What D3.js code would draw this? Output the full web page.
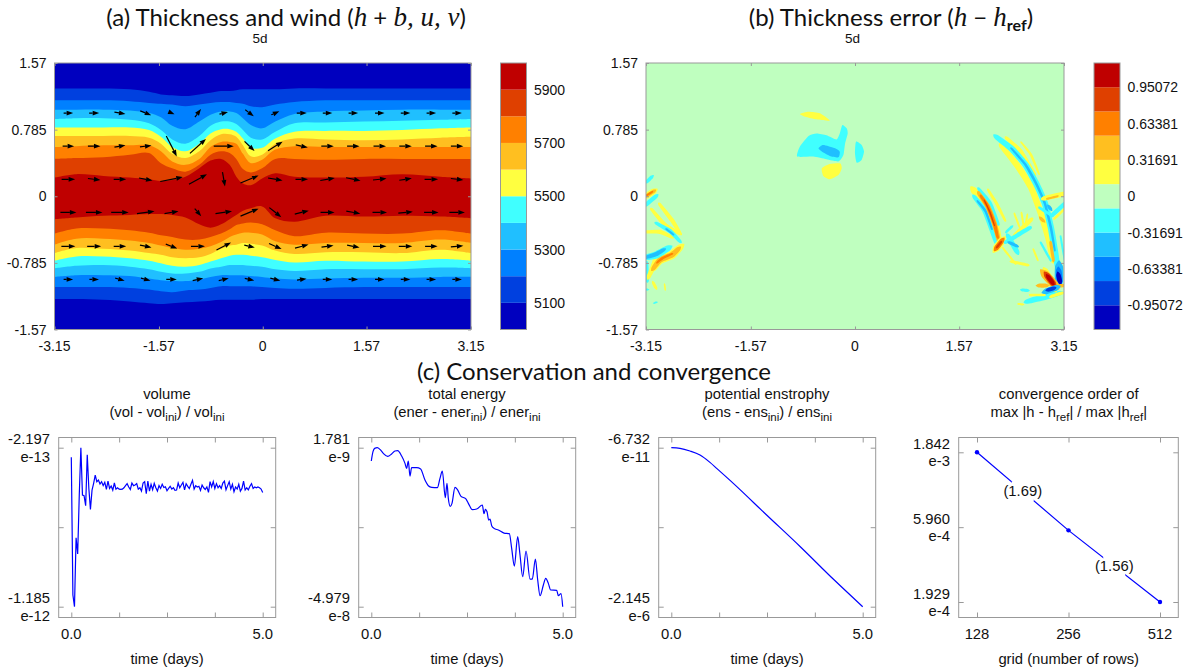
<!DOCTYPE html>
<html>
<head>
<meta charset="utf-8">
<script src="https://cdn.jsdelivr.net/npm/d3@7"></script>
<style>
  body { margin: 0; background: #fff; }
  text { font-family: "Liberation Sans", Arial, sans-serif; fill: #111; }
  .head { font-family: Lato, sans-serif; font-size: 24px; }
  .math { font-family: "Liberation Serif", serif; font-style: italic; }
</style>
</head>
<body>
<svg id="chart" width="1198" height="671"></svg>
<script>
// ---- panel (a): thickness contours, latitude of each contour along these longitudes
var contourLons = [-3.15,-2.82,-2.41,-2.01,-1.72,-1.54,-1.37,-1.17,-0.96,-0.79,-0.63,-0.50,-0.40,-0.30,-0.18,-0.01,0.19,0.48,0.95,1.53,2.11,2.69,3.15];

var north5100 = [1.27,1.27,1.27,1.26,1.23,1.20,1.19,1.18,1.20,1.22,1.24,1.24,1.25,1.26,1.26,1.26,1.26,1.27,1.27,1.27,1.27,1.27,1.27];
var north5200 = [1.13,1.13,1.13,1.12,1.10,1.09,1.08,1.06,1.08,1.10,1.11,1.11,1.10,1.09,1.06,1.05,1.08,1.11,1.13,1.13,1.13,1.13,1.13];
var north5300 = [1.02,1.02,1.02,1.01,.98,.93,.83,.79,.88,.96,1.00,1.00,.98,.92,.84,.80,.88,.97,1.00,1.01,1.02,1.02,1.02];
var north5400 = [.91,.92,.92,.90,.86,.78,.67,.62,.71,.83,.88,.88,.85,.78,.69,.67,.76,.86,.87,.88,.89,.90,.91];
var north5500 = [.81,.81,.81,.81,.78,.70,.58,.53,.62,.74,.79,.79,.76,.68,.57,.57,.68,.76,.77,.77,.78,.80,.81];
var north5600 = [.71,.71,.71,.71,.69,.62,.50,.45,.53,.66,.73,.73,.70,.60,.47,.49,.62,.68,.67,.66,.67,.69,.70];
var north5700 = [.58,.59,.60,.60,.60,.53,.41,.37,.44,.58,.64,.64,.62,.50,.39,.43,.55,.59,.58,.58,.58,.58,.58];
var north5800 = [.44,.45,.46,.49,.51,.39,.33,.29,.37,.49,.53,.51,.44,.32,.28,.33,.44,.44,.43,.44,.44,.44,.44];
var north5900 = [.22,.26,.24,.22,.20,.18,.19,.23,.33,.42,.44,.37,.23,.15,.13,.21,.27,.23,.22,.23,.26,.23,.21];

var south5900 = [-.27,-.25,-.23,-.22,-.21,-.21,-.22,-.25,-.33,-.37,-.33,-.27,-.22,-.17,-.14,-.12,-.26,-.30,-.23,-.24,-.23,-.24,-.26];
var south5800 = [-.44,-.38,-.38,-.40,-.43,-.46,-.48,-.51,-.51,-.48,-.44,-.39,-.34,-.32,-.31,-.33,-.40,-.47,-.43,-.44,-.44,-.40,-.44];
var south5700 = [-.57,-.50,-.50,-.52,-.55,-.58,-.61,-.63,-.62,-.59,-.54,-.48,-.45,-.43,-.43,-.45,-.53,-.57,-.55,-.55,-.55,-.51,-.55];
var south5600 = [-.67,-.61,-.62,-.64,-.67,-.69,-.72,-.73,-.72,-.68,-.62,-.58,-.57,-.55,-.56,-.58,-.64,-.68,-.66,-.66,-.67,-.63,-.67];
var south5500 = [-.76,-.71,-.71,-.73,-.76,-.79,-.82,-.83,-.81,-.77,-.73,-.70,-.69,-.69,-.70,-.72,-.75,-.78,-.76,-.77,-.77,-.74,-.76];
var south5400 = [-.85,-.82,-.81,-.83,-.86,-.89,-.91,-.91,-.89,-.85,-.83,-.81,-.81,-.81,-.82,-.83,-.86,-.88,-.86,-.86,-.86,-.84,-.85];
var south5300 = [-.95,-.93,-.93,-.94,-.97,-.99,-1.00,-1.00,-.98,-.95,-.93,-.93,-.93,-.93,-.94,-.95,-.97,-.98,-.97,-.96,-.96,-.95,-.95];
var south5200 = [-1.07,-1.07,-1.07,-1.08,-1.10,-1.12,-1.13,-1.11,-1.10,-1.08,-1.06,-1.06,-1.06,-1.06,-1.06,-1.07,-1.08,-1.09,-1.08,-1.07,-1.07,-1.07,-1.07];
var south5100 = [-1.21,-1.21,-1.22,-1.24,-1.26,-1.27,-1.26,-1.25,-1.24,-1.23,-1.22,-1.22,-1.22,-1.22,-1.22,-1.21,-1.21,-1.21,-1.21,-1.21,-1.21,-1.21,-1.21];

var thicknessLevels = [5100,5200,5300,5400,5500,5600,5700,5800,5900];
var thicknessTicks = [5100,5300,5500,5700,5900];
var northContours = [north5100,north5200,north5300,north5400,north5500,north5600,north5700,north5800,north5900];
var southContours = [south5100,south5200,south5300,south5400,south5500,south5600,south5700,south5800,south5900];

// wind vectors, one row per latitude
var windLons = [-2.94,-2.55,-2.16,-1.77,-1.38,-.98,-.59,-.20,.19,.59,.98,1.37,1.77,2.16,2.55,2.94];
var windLats = [.98,.59,.20,-.19,-.59,-.98];
var windU = [
  [19,20,22,22,12,12,17,17,16,20,19,19,19,19,19,19],
  [23,25,22,23,21,32,40,20,29,24,25,25,25,25,25,25],
  [27,25,25,27,45,36,5,36,29,25,29,29,27,25,27,25],
  [32,33,35,35,28,13,33,36,24,28,28,28,29,29,29,31],
  [28,28,25,23,23,28,29,21,25,27,24,25,27,27,25,25],
  [19,19,19,19,21,21,20,19,20,19,19,19,19,19,19,19]
];
var windV = [
  [0,0,-4,-9,-5,16,4,-13,7,0,0,0,0,0,0,0],
  [0,0,4,3,-41,29,0,-19,18,-5,0,0,0,0,0,0],
  [0,-3,0,-5,9,20,-29,15,-5,0,5,-6,3,4,0,-3],
  [0,0,0,5,5,-15,5,15,-19,7,0,-5,0,3,0,0],
  [0,0,0,-5,-9,0,15,-5,-11,7,3,-5,0,0,0,2],
  [0,0,-5,-5,0,5,5,-4,-5,3,0,0,0,0,0,0]
];

// ---- panel (b): error levels and patches
var errorStep = 0.21127;
var errorBounds = [-0.95072,-0.73945,-0.52818,-0.31691,-0.10564,0.10564,0.31691,0.52818,0.73945,0.95072];
var errorTicks = [-0.95072,-0.63381,-0.31691,0,0.31691,0.63381,0.95072];

// closed patches near the jet: [error value, outline lon/lat]
var errorPatches = [
  [0.2, [[-.83,.97],[-.70,.997],[-.53,.977],[-.38,.89],[-.58,.906],[-.75,.938]]],
  [-0.2, [[-.87,.467],[-.83,.585],[-.70,.71],[-.58,.74],[-.43,.72],[-.28,.67],[-.23,.74],[-.19,.84],[-.125,.80],[-.11,.74],[-.15,.62],[-.175,.486],[-.25,.41],[-.43,.435],[-.63,.467]]],
  [-0.42, [[-.55,.565],[-.48,.604],[-.30,.565],[-.23,.525],[-.25,.459],[-.38,.475],[-.50,.526]]],
  [-0.2, [[.015,.643],[.10,.604],[.136,.526],[.10,.427],[.025,.396],[0,.506]]],
  [0.2, [[-.50,.33],[-.38,.38],[-.225,.388],[-.20,.33],[-.25,.25],[-.38,.20],[-.477,.239]]]
];

// thin wave fronts: [error value, half width (rad), centre line lon/lat]
var errorStreaks = [
  // east side, long arc
  [0.2, .030, [[2.21,.59],[2.44,.37],[2.65,.11],[2.80,-.20],[2.91,-.48],[2.98,-.75]]],
  [0.2, .022, [[2.29,.68],[2.49,.53],[2.70,.27]]],
  [0.2, .012, [[2.51,.63],[2.65,.49],[2.77,.27]]],
  [-0.2, .030, [[2.13,.70],[2.36,.56],[2.57,.37],[2.73,.15],[2.86,-.08],[2.95,-.36],[3.01,-.63],[3.07,-.91]]],
  [-0.42, .012, [[2.36,.56],[2.57,.37],[2.73,.15],[2.86,-.08],[2.95,-.36],[3.01,-.63]]],
  [0.42, .018, [[2.95,-.55],[2.99,-.75]]],
  [-0.2, .012, [[3.10,-.48],[3.16,-.75]]],
  // east side, shorter arc
  [0.2, .040, [[1.79,.07],[2.0,-.12],[2.10,-.32],[2.17,-.53]]],
  [0.2, .015, [[2.01,.07],[2.13,-.08],[2.26,-.28]]],
  [-0.2, .025, [[1.80,-.01],[1.95,-.16],[2.05,-.36],[2.13,-.55]]],
  [-0.42, .012, [[1.85,-.06],[1.97,-.18],[2.06,-.38]]],
  [-0.2, .020, [[1.87,.08],[2.03,-.08],[2.155,-.32]]],
  [0.42, .024, [[1.87,.03],[2.0,-.12],[2.10,-.32],[2.17,-.53]]],
  [0.63, .016, [[1.90,.0],[2.0,-.12],[2.10,-.32],[2.15,-.48]]],
  [0.84, .007, [[1.95,-.05],[2.03,-.18],[2.10,-.34]]],
  [0.2, .045, [[2.129,-.613],[2.217,-.523]]],
  [0.63, .030, [[2.129,-.613],[2.217,-.523]]],
  [0.84, .014, [[2.14,-.60],[2.20,-.54]]],
  // east side, scattered ripples
  [0.2, .012, [[2.405,-.21],[2.477,-.358]]],
  [0.2, .012, [[2.51,-.20],[2.545,-.358]]],
  [0.2, .012, [[2.597,-.22],[2.571,-.338]]],
  [0.2, .025, [[2.415,-.456],[2.649,-.28]]],
  [-0.2, .016, [[2.285,-.417],[2.363,-.358]]],
  [-0.2, .025, [[2.285,-.535],[2.623,-.378]]],
  [-0.2, .030, [[2.311,-.476],[2.441,-.652]]],
  [-0.42, .018, [[2.327,-.546],[2.441,-.586]]],
  [0.2, .012, [[2.233,-.613],[2.415,-.79]]],
  [0.2, .018, [[2.363,-.77],[2.597,-.81]]],
  [0.2, .012, [[2.69,-.63],[2.753,-.75]]],
  [-0.2, .014, [[2.805,-.554],[2.945,-.75]]],
  [0.2, .030, [[2.857,-.024],[3.143,.027]]],
  [0.42, .012, [[2.90,-.03],[3.05,0]]],
  [-0.2, .025, [[2.977,-.22],[3.169,-.083]]],
  [-0.2, .018, [[2.79,-.14],[2.95,-.22]]],
  [0.2, .015, [[3.01,-.26],[3.17,-.14]]],
  [-0.42, .020, [[2.92,-.12],[2.95,-.15]]],
  [0.42, .020, [[2.80,-.26],[2.84,-.29]]],
  // south-east vortex pair
  [-0.2, .030, [[2.597,-1.24],[2.883,-1.18],[3.09,-1.14]]],
  [-0.2, .018, [[2.519,-1.104],[2.60,-1.11]]],
  [0.2, .015, [[2.649,-1.163],[2.85,-1.163]]],
  [0.2, .012, [[2.467,-1.27],[2.53,-1.275]]],
  [0.2, .020, [[2.96,-1.18],[3.12,-1.14]]],
  [0.2, .040, [[2.873,-.888],[3.0,-1.08]]],
  [-0.42, .050, [[3.075,-.829],[3.075,-1.006]]],
  [-0.63, .035, [[3.07,-.88],[3.085,-1.0]]],
  [-1.05, .028, [[3.065,-.927],[3.09,-1.006]]],
  [0.42, .050, [[2.857,-.915],[3.013,-1.045]]],
  [0.84, .036, [[2.89,-.93],[2.99,-1.03]]],
  [1.05, .026, [[2.909,-.947],[2.977,-1.018]]],
  [0.42, .025, [[2.769,-1.053],[2.883,-1.053]]],
  [0.42, .020, [[3.065,-1.057],[3.159,-1.053]]],
  [-0.42, .035, [[2.873,-1.123],[3.039,-1.076]]],
  [-0.84, .022, [[2.909,-1.104],[2.997,-1.084]]],
  // west side (waves wrapping round the date line)
  [-0.2, .020, [[-3.14,.17],[-3.06,.23]]],
  [0.2, .035, [[-3.15,0],[-3.03,.06]]],
  [0.42, .020, [[-3.15,0],[-3.03,.06]]],
  [0.63, .012, [[-3.14,.01],[-3.06,.05]]],
  [-0.2, .025, [[-3.15,-.10],[-3.0,0]]],
  [0.2, .020, [[-3.06,-.16],[-2.86,-.34],[-2.64,-.44]]],
  [0.2, .020, [[-2.94,-.10],[-2.76,-.28],[-2.64,-.43]]],
  [0.2, .020, [[-3.14,-.42],[-2.94,-.42],[-2.76,-.48]]],
  [-0.2, .020, [[-2.99,-.32],[-2.79,-.41],[-2.64,-.53]]],
  [-0.42, .012, [[-2.84,-.39],[-2.74,-.45]]],
  [-0.2, .020, [[-3.14,-.79],[-3.13,-.99]]],
  [0.2, .025, [[-3.11,-.95],[-3.04,-.83],[-3.0,-.72]]],
  [0.2, .040, [[-3.04,-.85],[-2.94,-.75],[-2.76,-.69],[-2.63,-.60]]],
  [0.42, .026, [[-3.04,-.85],[-2.94,-.75],[-2.76,-.69],[-2.66,-.62]]],
  [0.63, .012, [[-2.98,-.78],[-2.90,-.73],[-2.76,-.68]]],
  [-0.2, .035, [[-3.15,-.72],[-2.99,-.69],[-2.81,-.61]]],
  [-0.42, .020, [[-3.15,-.72],[-2.99,-.68],[-2.88,-.63]]],
  [0.2, .018, [[-3.04,-1.02],[-3.0,-1.08]]],
  [-0.2, .012, [[-3.15,-1.10],[-3.12,-1.10]]],
  [-0.2, .010, [[-3.03,-1.26],[-2.99,-1.25]]],
  [0.2, .010, [[-2.87,-1.04],[-2.86,-1.10]]]
];

// ---- panel (c): conservation series
var volumeValues = [-2.78,-11.14,-11.85,-7.66,-8.65,-5.07,-2.20,-5.07,-5.11,-5.72,-2.62,-4.67,-5.94,-4.77,-4.36,-3.86,-4.26,
  -4.16,-4.40,-4.26,-4.50,-4.30,-4.73,-4.22,-4.67,-4.52,-4.77,-4.34,-4.71,-4.63,-4.71,-4.73,-4.71,-4.63,-4.50,-4.38,-4.58,-4.73,-4.34,-4.50,-4.46,-4.38,
  -4.71,-4.63,-4.83,-4.34,-4.26,-4.99,-4.22,-4.83,-4.42,-4.75,-4.36,-4.63,-4.83,-4.50,-4.67,-4.42,-4.61,-4.57,-4.81,-4.67,-4.54,-4.71,-4.63,-4.79,-4.77,
  -4.34,-4.63,-4.46,-4.30,-4.75,-4.38,-4.54,-4.67,-4.42,-4.18,-4.71,-4.50,-4.58,-4.54,-4.79,-4.46,-4.63,-4.73,-4.58,-4.91,-4.26,-4.58,-4.26,-4.67,-4.38,
  -4.63,-4.50,-4.67,-4.34,-4.22,-4.75,-4.50,-4.26,-4.71,-4.42,-4.87,-4.58,-4.71,-4.42,-4.83,-4.67,-4.22,-4.77,-4.63,-4.75,-4.54,-4.38,-4.67,-4.58,-4.63,-4.58,-4.63,-4.71,-4.91];

var energyDays = [0,.044,.087,.157,.226,.314,.427,.531,.618,.688,.793,.88,.923,.967,1.01,1.054,1.185,1.289,1.402,1.49,1.577,1.725,1.794,1.855,1.934,1.977,2.012,2.064,2.108,2.186,2.247,2.343,2.465,2.535,2.639,2.753,2.901,2.944,2.979,3.023,3.066,3.101,3.145,3.206,3.319,3.467,3.606,3.667,3.737,3.824,3.885,3.955,4.042,4.146,4.207,4.286,4.347,4.408,4.495,4.556,4.625,4.686,4.843,4.887,4.956,5];
var energyValues = [-.254,.048,.156,.178,.124,-.006,-.103,-.027,.070,.081,-.092,-.330,-.492,-.254,-.741,-.471,-.471,-.514,-.871,-1.055,-1.109,-1.119,-.817,-.579,-1.444,-.979,-1.465,-1.725,-1.627,-1.109,-1.173,-1.400,-1.476,-1.627,-1.833,-1.811,-1.681,-1.962,-1.822,-1.898,-2.168,-2.136,-2.352,-2.438,-2.492,-2.590,-2.611,-3.087,-3.660,-2.708,-3.303,-4.006,-3.173,-4.082,-4.082,-3.433,-4.114,-4.622,-4.276,-4.060,-4.222,-4.438,-4.449,-4.622,-4.557,-4.979];

var enstrophyDays = [0,.226,.488,.749,1.01,1.185,1.62,2.49,3.37,4.23,5];
var enstrophyValues = [-.00007,-.009,-.045,-.099,-.198,-.279,-.481,-.908,-1.336,-1.772,-2.145];

var gridRows = [128,256,512];
var gridErrors = [1.842e-3,5.68e-4,1.929e-4];
var gridTicks = [1.842e-3,5.960e-4,1.929e-4];
var orderLabels = ["(1.69)","(1.56)"];

// colours shared by both maps, low to high
var jetColors = ["#0000bf","#0040df","#0080ff","#20bfff","#40ffff","#ffff40","#ffbf20","#ff8000","#df4000","#bf0000"];
var errorColors = ["#0000bf","#0040df","#0080ff","#20bfff","#40ffff","#bfffbf","#ffff40","#ffbf20","#ff8000","#df4000","#bf0000"];

var svg = d3.select('#chart');
var grey = '#999';

var mapTop = 63, mapBottom = 329.5;
var mapY = d3.scaleLinear().domain([1.57,-1.57]).range([mapTop,mapBottom]);
var mapTicksX = [-3.15,-1.57,0,1.57,3.15];
var mapTicksY = [1.57,0.785,0,-0.785,-1.57];

function fmt(d) { return String(d); }

// frame, ticks and lon/lat labels of one map
function mapFrame(x) {
  var left = x.range()[0], right = x.range()[1];
  svg.append('rect').attr('x',left).attr('y',mapTop).attr('width',right-left).attr('height',mapBottom-mapTop)
    .attr('fill','none').attr('stroke',grey);

  var ticksB = svg.append('g').attr('transform',`translate(0,${mapBottom})`).call(d3.axisBottom(x).tickValues(mapTicksX).tickSize(-3).tickFormat(''));
  var ticksT = svg.append('g').attr('transform',`translate(0,${mapTop})`).call(d3.axisTop(x).tickValues(mapTicksX).tickSize(-3).tickFormat(''));
  var ticksL = svg.append('g').attr('transform',`translate(${left},0)`).call(d3.axisLeft(mapY).tickValues(mapTicksY).tickSize(-3).tickFormat(''));
  var ticksR = svg.append('g').attr('transform',`translate(${right},0)`).call(d3.axisRight(mapY).tickValues(mapTicksY).tickSize(-3).tickFormat(''));
  [ticksB,ticksT,ticksL,ticksR].forEach(function(g) {
    g.select('.domain').remove();
    g.selectAll('line').attr('stroke',grey);
  });

  svg.selectAll(null).data(mapTicksX).enter().append('text')
    .attr('x',d => x(d)).attr('y',350.5).attr('text-anchor','middle').attr('font-size',14).text(fmt);
  svg.selectAll(null).data(mapTicksY).enter().append('text')
    .attr('x',left-8).attr('y',d => mapY(d)+5).attr('text-anchor','end').attr('font-size',14).text(fmt);
}

// ---------- (a)
var xa = d3.scaleLinear().domain([-3.15,3.15]).range([54.5,471]);
var jetColor = d3.scaleThreshold().domain(thicknessLevels).range(jetColors);

svg.append('clipPath').attr('id','clip-a').append('rect')
  .attr('x',54.5).attr('y',mapTop).attr('width',416.5).attr('height',mapBottom-mapTop);
svg.append('clipPath').attr('id','clip-b').append('rect')
  .attr('x',646).attr('y',mapTop).attr('width',418).attr('height',mapBottom-mapTop);

var gA = svg.append('g').attr('clip-path','url(#clip-a)');
gA.append('rect').attr('x',54.5).attr('y',mapTop).attr('width',416.5).attr('height',mapBottom-mapTop).attr('fill',jetColors[0]);

var band = d3.area()
  .x(d => xa(d.lon))
  .y0(d => mapY(d.south))
  .y1(d => mapY(d.north))
  .curve(d3.curveCatmullRom.alpha(0.5));

// painted from the outermost contour inwards
thicknessLevels.forEach(function(level,i) {
  var rows = contourLons.map(function(lon,j) {
    return { lon: lon, north: northContours[i][j], south: southContours[i][j] };
  });
  gA.append('path').attr('d',band(rows)).attr('fill',jetColor(level+50));
});

// arrows centred on their grid point
var windScale = 0.5;
windLats.forEach(function(lat,r) {
  windLons.forEach(function(lon,c) {
    var cx = xa(lon), cy = mapY(lat);
    var dx = windU[r][c]*windScale, dy = -windV[r][c]*windScale;
    var len = Math.hypot(dx,dy), ux = dx/len, uy = dy/len;
    var tipX = cx+dx/2, tipY = cy+dy/2, headX = tipX-ux*6.5, headY = tipY-uy*6.5;
    gA.append('line').attr('x1',cx-dx/2).attr('y1',cy-dy/2).attr('x2',headX).attr('y2',headY)
      .attr('stroke','#000').attr('stroke-width',1.2);
    gA.append('path').attr('fill','#000')
      .attr('d',`M${tipX},${tipY}L${headX-uy*2.4},${headY+ux*2.4}L${headX+uy*2.4},${headY-ux*2.4}Z`);
  });
});
mapFrame(xa);

// colour bar (a)
var barA = d3.scaleLinear().domain([5000,6000]).range([mapBottom,mapTop]);
var edgesA = [5000].concat(thicknessLevels);
svg.selectAll(null).data(edgesA).enter().append('rect')
  .attr('x',500.5).attr('width',26)
  .attr('y',d => barA(d+100)).attr('height',d => barA(d)-barA(d+100))
  .attr('fill',d => jetColor(d+50));
svg.append('rect').attr('x',500.5).attr('y',mapTop).attr('width',26).attr('height',mapBottom-mapTop).attr('fill','none').attr('stroke',grey);
svg.selectAll(null).data(thicknessTicks).enter().append('text')
  .attr('x',534).attr('y',d => barA(d)+5).attr('font-size',14).text(fmt);

// ---------- (b)
var xb = d3.scaleLinear().domain([-3.15,3.15]).range([646,1064]);
var errorColor = d3.scaleThreshold().domain(errorBounds).range(errorColors);
var gB = svg.append('g').attr('clip-path','url(#clip-b)');
gB.append('rect').attr('x',646).attr('y',mapTop).attr('width',418).attr('height',mapBottom-mapTop).attr('fill',errorColor(0));

var closedLine = d3.line().curve(d3.curveCardinalClosed.tension(0.4));

errorPatches.forEach(function(p) {
  gB.append('path').attr('fill',errorColor(p[0]))
    .attr('d',closedLine(p[1].map(d => [xb(d[0]),mapY(d[1])])));
});

// a streak is its centre line widened both ways and pointed at the ends
var streakSpread = 1.6;
function streakOutline(halfWidth,pts) {
  var w = (xb(halfWidth)-xb(0))*streakSpread;
  var px = pts.map(d => [xb(d[0]),mapY(d[1])]);
  var n = px.length, upper = [], lower = [];
  px.forEach(function(p,i) {
    var a = px[Math.max(i-1,0)], b = px[Math.min(i+1,n-1)];
    var tx = b[0]-a[0], ty = b[1]-a[1], t = Math.hypot(tx,ty);
    var f = (i==0 || i==n-1) ? 0.75 : 1;
    upper.push([p[0]-ty/t*w*f,p[1]+tx/t*w*f]);
    lower.unshift([p[0]+ty/t*w*f,p[1]-tx/t*w*f]);
  });
  var s = px[0], e = px[n-1], t0 = [px[1][0]-s[0],px[1][1]-s[1]], t1 = [e[0]-px[n-2][0],e[1]-px[n-2][1]];
  var l0 = Math.hypot(t0[0],t0[1]), l1 = Math.hypot(t1[0],t1[1]);
  var startTip = [s[0]-t0[0]/l0*w*1.2,s[1]-t0[1]/l0*w*1.2], endTip = [e[0]+t1[0]/l1*w*1.2,e[1]+t1[1]/l1*w*1.2];
  return [startTip].concat(upper,[endTip],lower);
}

errorStreaks.forEach(function(s) {
  gB.append('path').attr('fill',errorColor(s[0])).attr('d',closedLine(streakOutline(s[1],s[2])));
});
mapFrame(xb);

// colour bar (b)
var barB = d3.scaleLinear().domain([-5.5*errorStep,5.5*errorStep]).range([mapBottom,mapTop]);
var edgesB = [-5.5*errorStep].concat(errorBounds);
svg.selectAll(null).data(edgesB).enter().append('rect')
  .attr('x',1094).attr('width',26)
  .attr('y',d => barB(d+errorStep)).attr('height',d => barB(d)-barB(d+errorStep))
  .attr('fill',d => errorColor(d+errorStep/2));
svg.append('rect').attr('x',1094).attr('y',mapTop).attr('width',26).attr('height',mapBottom-mapTop).attr('fill','none').attr('stroke',grey);
svg.selectAll(null).data(errorTicks).enter().append('text')
  .attr('x',1127.5).attr('y',d => barB(d)+5).attr('font-size',14).text(fmt);

// ---------- headings
function heading(x,y,parts) {
  var t = svg.append('text').attr('class','head').attr('x',x).attr('y',y).attr('text-anchor','middle');
  parts.forEach(function(p) {
    var s = t.append('tspan').text(p.text);
    if (p.math) s.attr('class','math').attr('font-size',27);
    if (p.sub) s.attr('font-size',16).attr('font-weight','bold').attr('dy',5);
    if (p.back) s.attr('dy',-5);
  });
}
heading(286,26,[{text:'(a) Thickness and wind ('},{text:'h',math:1},{text:' + '},{text:'b, u, v',math:1},{text:')'}]);
heading(891,26,[{text:'(b) Thickness error ('},{text:'h',math:1},{text:' \u2212 '},{text:'h',math:1},{text:'ref',sub:1},{text:')',back:1}]);
heading(594,380,[{text:'(c) Conservation and convergence'}]);
svg.append('text').attr('x',260).attr('y',43).attr('text-anchor','middle').attr('font-size',13.5).text('5d');
svg.append('text').attr('x',852.5).attr('y',43).attr('text-anchor','middle').attr('font-size',13.5).text('5d');

// ---------- small line panels
var frameTop = 437.5, frameBottom = 617.5;

function smallTitle(cx,line1,line2parts) {
  svg.append('text').attr('x',cx).attr('y',399).attr('text-anchor','middle').attr('font-size',14.8).text(line1);
  var t = svg.append('text').attr('x',cx).attr('y',417).attr('text-anchor','middle').attr('font-size',14.8);
  line2parts.forEach(function(p,i) {
    var s = t.append('tspan').text(p[0]);
    if (p[1]==1) s.attr('font-size',11.5).attr('dy',4);
    if (i>0 && line2parts[i-1][1]==1) s.attr('dy',-4);
  });
}

function stackedLabel(x,y,top,bottom) {
  svg.append('text').attr('x',x).attr('y',y-3.5).attr('text-anchor','end').attr('font-size',14.8).text(top);
  svg.append('text').attr('x',x).attr('y',y+14).attr('text-anchor','end').attr('font-size',14.8).text(bottom);
}

function smallFrame(left,right,x,y,xTicks,yTicks) {
  svg.append('rect').attr('x',left).attr('y',frameTop).attr('width',right-left).attr('height',frameBottom-frameTop)
    .attr('fill','none').attr('stroke',grey);
  var gs = [
    svg.append('g').attr('transform',`translate(0,${frameBottom})`).call(d3.axisBottom(x).tickValues(xTicks).tickSize(-5).tickFormat('')),
    svg.append('g').attr('transform',`translate(0,${frameTop})`).call(d3.axisTop(x).tickValues(xTicks).tickSize(-5).tickFormat('')),
    svg.append('g').attr('transform',`translate(${left},0)`).call(d3.axisLeft(y).tickValues(yTicks).tickSize(-5).tickFormat('')),
    svg.append('g').attr('transform',`translate(${right},0)`).call(d3.axisRight(y).tickValues(yTicks).tickSize(-5).tickFormat(''))
  ];
  gs.forEach(function(g) {
    g.select('.domain').remove();
    g.selectAll('line').attr('stroke',grey);
  });
}

function timePanel(offset,opts) {
  var left = offset+58.7, right = offset+275.7;
  var x = d3.scaleLinear().domain([0,5]).range([offset+71.3,offset+262.7]);
  var y = d3.scaleLinear().domain([opts.top,opts.bottom]).range([447.7,606.7]);
  smallTitle(offset+167,opts.title,opts.subtitle);
  smallFrame(left,right,x,y,[0,1.25,2.5,3.75,5],[opts.top,(opts.top+opts.bottom)/2,opts.bottom]);

  var line = d3.line().x((d,i) => x(opts.days[i])).y(d => y(d));
  if (opts.smooth) line.curve(d3.curveMonotoneX);
  svg.append('path').attr('d',line(opts.values)).attr('fill','none').attr('stroke','#0000ff').attr('stroke-width',1.2);

  stackedLabel(offset+50,447.7,opts.topLabel[0],opts.topLabel[1]);
  stackedLabel(offset+50,606.7,opts.bottomLabel[0],opts.bottomLabel[1]);
  svg.append('text').attr('x',x(0)).attr('y',639).attr('text-anchor','middle').attr('font-size',14.8).text('0.0');
  svg.append('text').attr('x',x(5)).attr('y',639).attr('text-anchor','middle').attr('font-size',14.8).text('5.0');
  svg.append('text').attr('x',offset+167).attr('y',664).attr('text-anchor','middle').attr('font-size',14.8).text('time (days)');
}

var volumeDays = volumeValues.map((d,i) => i/24); // hourly output

timePanel(0,{ title:'volume', subtitle:[['(vol - vol'],['ini',1],[') / vol'],['ini',1]],
  days:volumeDays, values:volumeValues, top:-2.197, bottom:-11.85,
  topLabel:['-2.197','e-13'], bottomLabel:['-1.185','e-12'] });
timePanel(300,{ title:'total energy', subtitle:[['(ener - ener'],['ini',1],[') / ener'],['ini',1]],
  days:energyDays, values:energyValues, top:0.1781, bottom:-4.979, smooth:true,
  topLabel:['1.781','e-9'], bottomLabel:['-4.979','e-8'] });
timePanel(600,{ title:'potential enstrophy', subtitle:[['(ens - ens'],['ini',1],[') / ens'],['ini',1]],
  days:enstrophyDays, values:enstrophyValues, top:-0.00006732, bottom:-2.145, smooth:true,
  topLabel:['-6.732','e-11'], bottomLabel:['-2.145','e-6'] });

// convergence panel, log axes
var xg = d3.scaleLog().base(2).domain([128,512]).range([977,1160]);
var yg = d3.scaleLog().domain([gridTicks[0],gridTicks[2]]).range([452.3,602]);
smallTitle(1068.7,'convergence order of',[['max |h - h'],['ref',1],['| / max |h'],['ref',1],['|']]);
smallFrame(958.7,1178.3,xg,yg,gridRows,gridTicks);

var gridLine = d3.line().x((d,i) => xg(gridRows[i])).y(d => yg(d));
svg.append('path').attr('d',gridLine(gridErrors)).attr('fill','none').attr('stroke','#0000ff').attr('stroke-width',1.2);
svg.selectAll(null).data(gridErrors).enter().append('circle')
  .attr('cx',(d,i) => xg(gridRows[i])).attr('cy',d => yg(d)).attr('r',2.2).attr('fill','#0000ff');

// order labels sit on a white gap halfway along each segment
orderLabels.forEach(function(label,i) {
  var mx = (xg(gridRows[i])+xg(gridRows[i+1]))/2, my = (yg(gridErrors[i])+yg(gridErrors[i+1]))/2;
  svg.append('rect').attr('x',mx-11).attr('y',my-10).attr('width',22).attr('height',20).attr('fill','#fff');
  svg.append('text').attr('x',mx).attr('y',my+5).attr('text-anchor','middle').attr('font-size',14.8).text(label);
});

stackedLabel(950,yg(gridTicks[0]),'1.842','e-3');
stackedLabel(950,yg(gridTicks[1]),'5.960','e-4');
stackedLabel(950,yg(gridTicks[2]),'1.929','e-4');
gridRows.forEach(function(d) {
  svg.append('text').attr('x',xg(d)).attr('y',639).attr('text-anchor','middle').attr('font-size',14.8).text(d);
});
svg.append('text').attr('x',1068.7).attr('y',664).attr('text-anchor','middle').attr('font-size',14.8).text('grid (number of rows)');
</script>
</body>
</html>
